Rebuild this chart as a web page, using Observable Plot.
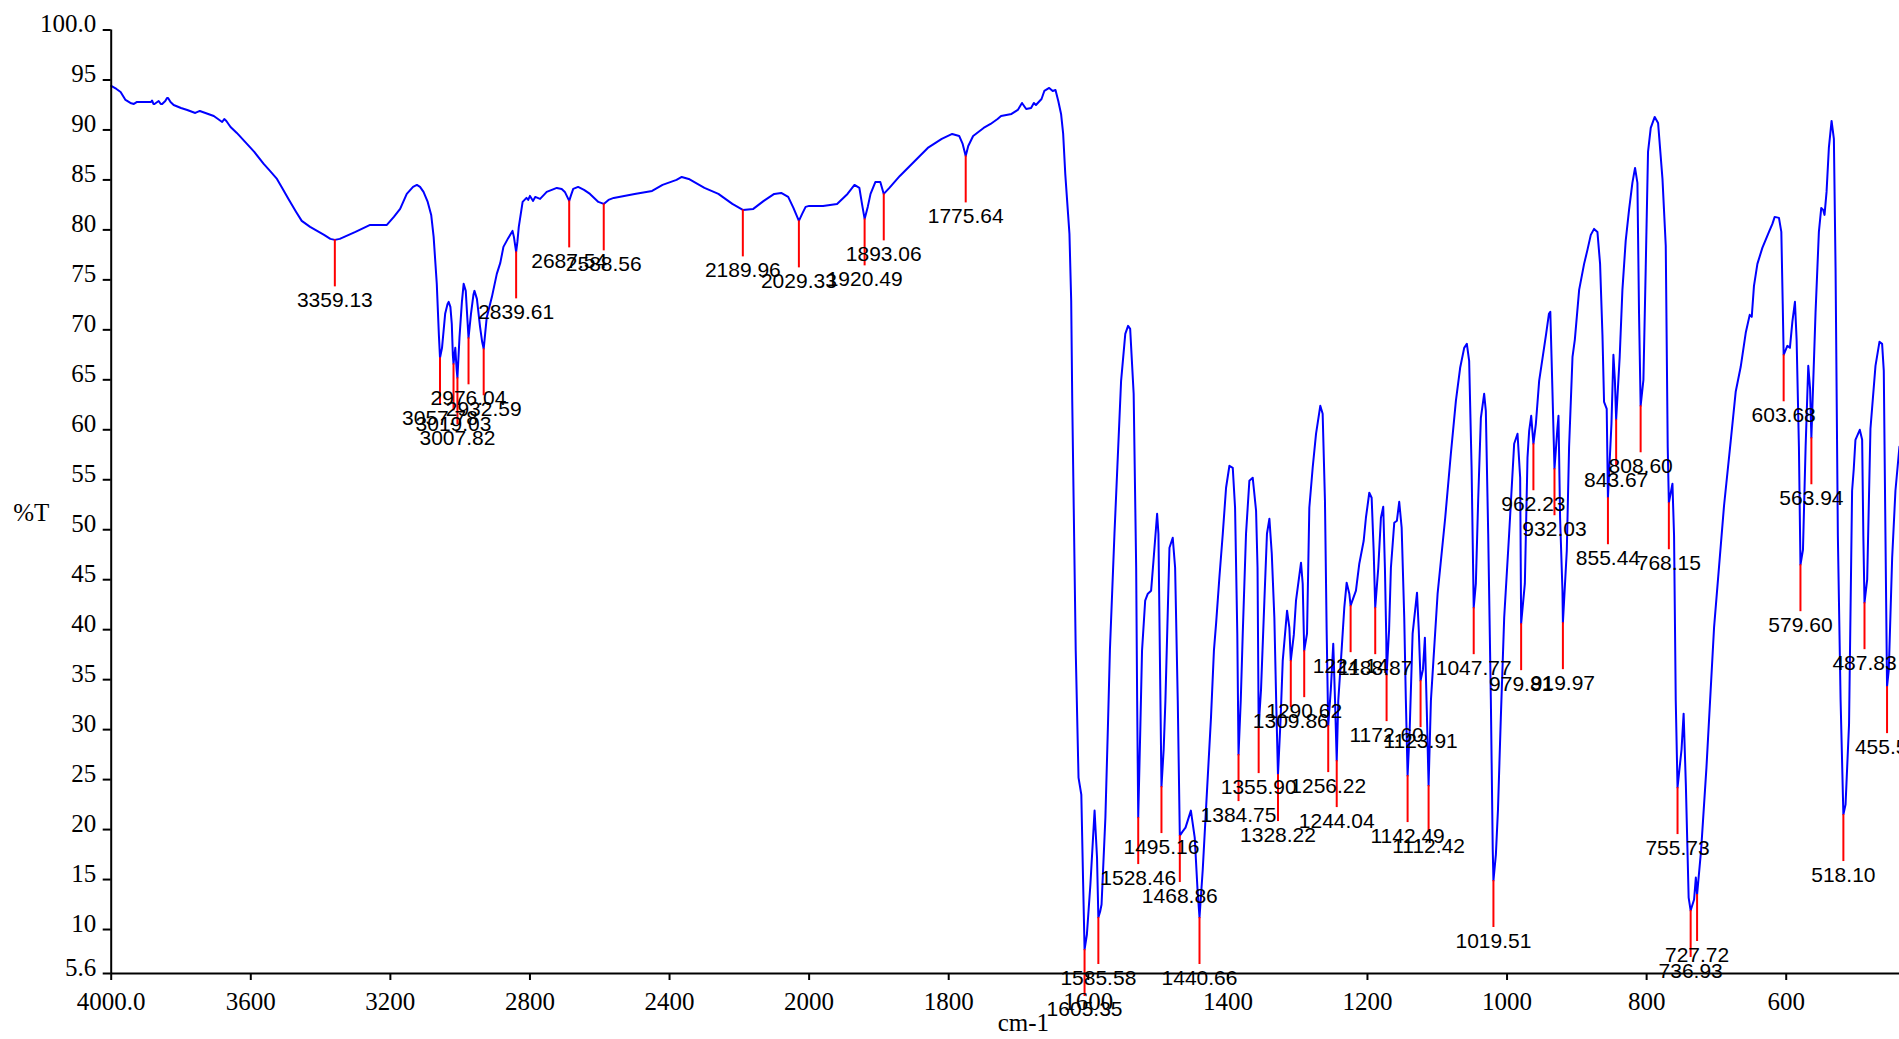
<!DOCTYPE html>
<html>
<head>
<meta charset="utf-8">
<script src="https://cdn.jsdelivr.net/npm/d3@7"></script>
<script src="https://cdn.jsdelivr.net/npm/@observablehq/plot@0.6"></script>
<style>
  html, body { margin: 0; padding: 0; background: #fff; overflow: hidden; }
  #chart svg { display: block; }
</style>
</head>
<body>
<div id="chart"></div>
<script>
// Spectrum (wavenumber cm-1, %T)
const wavenumbers = [
  4000, 3985, 3973, 3959, 3945, 3935, 3926, 3900, 3886, 3883, 3879, 3876, 3868, 3864, 3858, 3854, 3845, 3840, 3837, 3830,
  3821, 3800, 3782, 3759, 3746, 3730, 3706, 3690, 3682, 3676, 3670, 3658, 3640, 3611, 3590, 3563, 3545, 3525, 3510, 3492,
  3470, 3454, 3430, 3410, 3390, 3372, 3359.13, 3345, 3300, 3258, 3210, 3190, 3172, 3153, 3135, 3124, 3115, 3105, 3093, 3083,
  3076, 3067, 3061, 3057.78, 3052, 3043, 3036, 3033, 3028, 3024, 3021, 3019.03, 3014, 3010, 3007.82, 3002, 2995, 2990, 2984, 2980,
  2976.04, 2969, 2962, 2959, 2952, 2943, 2937, 2932.59, 2924, 2909, 2895, 2885, 2876, 2862, 2850, 2846, 2839.61, 2836, 2832, 2821,
  2810, 2805, 2800, 2791, 2785, 2771, 2760, 2752, 2723, 2709, 2700, 2687.54, 2682, 2676, 2662, 2645, 2628, 2604, 2588.56, 2575,
  2560, 2530, 2500, 2450, 2420, 2380, 2365, 2345, 2330, 2300, 2260, 2220, 2189.96, 2160, 2130, 2100, 2080, 2060, 2045, 2029.33,
  2020, 2010, 2000, 1980, 1960, 1945, 1935, 1928, 1924, 1920.49, 1916, 1912, 1905, 1898, 1893.06, 1885, 1870, 1850, 1830, 1810,
  1795, 1785, 1780, 1775.64, 1772, 1765, 1750, 1740, 1730, 1725, 1710, 1701, 1695, 1689, 1682, 1678, 1675, 1667, 1663, 1656,
  1651, 1647, 1643, 1639, 1636, 1633, 1629, 1627, 1624.5, 1623, 1618, 1614, 1610, 1607.5, 1605.35, 1602, 1597, 1591, 1587.5, 1585.58,
  1583, 1581, 1575.5, 1572, 1569, 1562.5, 1553, 1547, 1543, 1540, 1535, 1531.4, 1530, 1528.46, 1525.5, 1523, 1518.5, 1514.7, 1510, 1506.6,
  1501.4, 1499.5, 1497, 1495.16, 1492, 1489.5, 1483.7, 1479, 1475.6, 1471.8, 1468.86, 1465, 1460.7, 1453, 1447.5, 1443.5, 1440.66, 1436, 1432, 1424.2,
  1420, 1416.9, 1412.2, 1407.3, 1402.6, 1397.8, 1393, 1389.7, 1386.5, 1384.75, 1381.5, 1378.7, 1374, 1369.2, 1364.4, 1359.6, 1357.5, 1355.9, 1352.5, 1347.7,
  1344, 1340.5, 1337.1, 1333.4, 1330.5, 1328.22, 1324.5, 1321.4, 1315.2, 1311.9, 1309.86, 1305.5, 1302.4, 1295.2, 1292.8, 1290.62, 1286.6, 1283.3, 1278.5, 1273.7,
  1267.6, 1264.2, 1260.9, 1258.5, 1256.22, 1252.5, 1249, 1246.5, 1244.04, 1241.8, 1237, 1233.2, 1229.8, 1226, 1224.14, 1216.5, 1211.7, 1205.4, 1202.2, 1197.4,
  1194, 1191.1, 1188.87, 1184.5, 1180.7, 1177.4, 1175, 1173, 1172.6, 1169, 1166.4, 1161.6, 1157.8, 1154.5, 1151, 1147.3, 1145, 1142.49, 1139.5, 1135.3,
  1129, 1126.5, 1123.91, 1120.5, 1117.7, 1115, 1112.42, 1109.1, 1099.5, 1088.6, 1080.5, 1073.3, 1067.2, 1061.4, 1057.6, 1054.3, 1050.8, 1047.77, 1044.7, 1041.4,
  1037.5, 1032.8, 1030.4, 1027, 1023.2, 1020.5, 1019.51, 1016, 1013, 1008.9, 1004.1, 997, 989.8, 985, 981.2, 979.81, 974.5, 970.7, 968.3, 965.4,
  962.23, 958.7, 954, 949.1, 944, 940, 938, 935, 932.03, 928, 926.3, 924, 920.6, 919.97, 914.4, 911.1, 906.2, 902.9, 896.7, 889.6,
  884.8, 880, 875.3, 870.5, 866.7, 863.3, 861, 857.2, 855.44, 850.4, 847.6, 845.5, 843.67, 838.6, 834.7, 830, 825.2, 820.4, 816.6, 813.2,
  810.9, 808.6, 804.6, 801.3, 798, 794.1, 788.4, 783.6, 777.3, 772.6, 769.8, 768.15, 763, 760.7, 758.3, 755.73, 750, 747, 743.8, 739.8,
  736.93, 732, 729.5, 727.72, 722, 714.3, 703.4, 689.1, 679.5, 672.4, 665.2, 658, 652.3, 649.4, 646.2, 641.3, 634.2, 624.7, 619.8, 616.5,
  610.4, 607, 605, 603.68, 598.4, 594.7, 591.2, 587.5, 585.1, 581.8, 579.6, 576, 572.2, 568.4, 565.8, 563.94, 558, 553.2, 549.8, 547,
  545.1, 542.2, 538.9, 535, 531.7, 529.3, 526, 522.1, 518.1, 515, 510, 505.6, 503.2, 500.8, 494.6, 491.2, 489.5, 487.83, 484, 479.3,
  472.1, 466.4, 462.6, 460.2, 457.8, 455.53, 453, 448.2, 443.5, 437.8
];
const transmittance = [
  94.4, 94.1, 93.8, 93.0, 92.7, 92.6, 92.8, 92.8, 92.8, 92.95, 92.6, 92.6, 92.8, 92.9, 92.6, 92.6, 92.9, 93.2, 93.2, 92.8,
  92.5, 92.2, 92.0, 91.7, 91.9, 91.7, 91.4, 91.0, 90.8, 91.1, 90.9, 90.3, 89.7, 88.6, 87.8, 86.6, 85.9, 85.1, 84.2, 83.1,
  81.8, 80.9, 80.3, 79.9, 79.5, 79.1, 79.0, 79.1, 79.8, 80.5, 80.5, 81.3, 82.1, 83.6, 84.3, 84.5, 84.3, 83.8, 82.8, 81.5,
  79.3, 74.6, 69.5, 67.2, 68.2, 71.6, 72.6, 72.8, 72.3, 70.6, 67.5, 66.6, 68.2, 66.0, 65.2, 69.2, 72.8, 74.6, 73.9, 71.5,
  69.2, 71.6, 73.5, 73.9, 73.1, 70.3, 68.8, 68.1, 71.2, 73.3, 75.6, 76.7, 78.3, 79.2, 79.9, 79.3, 77.8, 78.8, 80.3, 82.8,
  83.2, 83.0, 83.4, 82.9, 83.3, 83.1, 83.5, 83.8, 84.2, 84.1, 83.8, 82.9, 83.5, 84.1, 84.3, 84.0, 83.6, 82.8, 82.6, 83.0,
  83.2, 83.4, 83.6, 83.9, 84.5, 85.0, 85.3, 85.1, 84.8, 84.2, 83.6, 82.6, 82.0, 82.1, 82.9, 83.6, 83.7, 83.3, 82.2, 80.9,
  81.6, 82.3, 82.4, 82.4, 82.6, 83.6, 84.5, 84.2, 82.5, 81.1, 82.3, 83.6, 84.8, 84.8, 83.6, 84.2, 85.4, 86.8, 88.2, 89.1,
  89.6, 89.4, 88.6, 87.4, 88.4, 89.4, 90.2, 90.6, 91.1, 91.4, 91.6, 92.0, 92.7, 92.1, 92.2, 92.7, 92.5, 93.1, 93.9, 94.2,
  93.9, 94.0, 92.9, 91.6, 89.6, 85.6, 81.6, 79.6, 72.9, 62.9, 37.9, 25.2, 23.5, 15.0, 8.0, 9.5, 14.5, 21.9, 17.2, 11.2,
  11.8, 12.5, 21.2, 30.0, 38.0, 49.6, 64.9, 69.6, 70.4, 70.1, 63.6, 46.2, 33.0, 21.2, 30.0, 37.9, 42.9, 43.6, 43.9, 46.9,
  51.6, 49.6, 35.0, 24.3, 28.0, 32.9, 48.2, 49.2, 46.2, 32.9, 19.4, 19.8, 20.2, 21.9, 19.2, 14.0, 11.2, 16.0, 21.2, 31.2,
  37.9, 40.6, 45.2, 49.6, 54.2, 56.4, 56.2, 52.2, 39.6, 27.5, 33.0, 39.6, 49.6, 54.9, 55.2, 51.9, 46.2, 30.3, 34.0, 42.9,
  49.6, 51.1, 47.6, 41.2, 32.0, 25.5, 31.0, 36.9, 41.9, 40.2, 36.9, 39.5, 42.9, 46.7, 44.6, 37.9, 39.6, 52.2, 56.2, 59.6,
  62.4, 61.6, 52.9, 40.0, 30.4, 34.0, 38.6, 33.0, 26.9, 32.9, 38.0, 42.2, 44.7, 43.6, 42.4, 43.9, 46.6, 48.9, 51.2, 53.7,
  53.2, 47.9, 42.2, 46.2, 51.2, 52.3, 46.2, 39.0, 35.5, 40.0, 46.2, 50.7, 50.9, 52.8, 50.2, 41.2, 33.0, 25.4, 30.0, 39.6,
  43.7, 40.0, 34.9, 36.0, 39.2, 32.0, 24.4, 32.9, 43.6, 51.2, 57.6, 62.9, 66.2, 68.2, 68.6, 66.9, 56.2, 42.2, 44.6, 52.9,
  61.2, 63.6, 61.9, 49.6, 33.0, 18.0, 14.9, 17.5, 22.0, 31.2, 41.2, 49.6, 58.6, 59.6, 55.2, 40.6, 44.6, 57.2, 59.9, 61.4,
  58.6, 60.6, 64.9, 67.2, 69.6, 71.6, 71.8, 64.0, 56.1, 60.0, 61.4, 51.2, 43.9, 40.7, 47.9, 58.3, 67.3, 69.0, 74.0, 76.6,
  78.0, 79.5, 80.1, 79.8, 76.6, 69.5, 62.8, 62.1, 53.2, 60.6, 67.5, 65.0, 61.0, 67.3, 74.0, 78.9, 82.0, 84.7, 86.2, 84.7,
  71.7, 62.4, 65.0, 76.2, 87.8, 90.2, 91.3, 90.7, 85.1, 78.4, 58.3, 52.7, 54.6, 49.4, 33.0, 24.2, 28.0, 31.6, 24.5, 13.2,
  11.9, 13.0, 15.2, 13.5, 17.9, 26.2, 40.2, 52.4, 58.9, 63.8, 66.3, 69.7, 71.5, 71.3, 74.4, 76.6, 78.2, 79.8, 80.6, 81.3,
  81.2, 79.8, 72.6, 67.5, 68.4, 68.2, 70.8, 72.8, 69.0, 58.3, 46.5, 48.0, 58.3, 66.4, 64.1, 59.2, 71.7, 79.8, 82.2, 82.0,
  81.5, 83.8, 88.2, 90.9, 89.1, 76.2, 49.4, 33.0, 21.5, 22.5, 30.5, 53.9, 56.1, 59.0, 60.0, 59.0, 49.4, 42.7, 45.0, 60.1,
  66.4, 68.8, 68.6, 65.9, 49.4, 34.3, 36.0, 47.2, 53.9, 58.3
];

// Peak annotations
const peakLabels = [
  "3359.13", "3057.78", "3019.03", "3007.82", "2976.04", "2932.59", "2839.61", "2687.54", "2588.56", "2189.96",
  "2029.33", "1920.49", "1893.06", "1775.64", "1605.35", "1585.58", "1528.46", "1495.16", "1468.86", "1440.66",
  "1384.75", "1355.90", "1328.22", "1309.86", "1290.62", "1256.22", "1244.04", "1224.14", "1188.87", "1172.60",
  "1142.49", "1123.91", "1112.42", "1047.77", "1019.51", "979.81", "962.23", "932.03", "919.97", "855.44",
  "843.67", "808.60", "768.15", "755.73", "736.93", "727.72", "603.68", "579.60", "563.94", "518.10",
  "487.83", "455.53"
];
const peakTransmittance = [
  79.0, 67.2, 66.6, 65.2, 69.2, 68.1, 77.8, 82.9, 82.6, 82.0,
  80.9, 81.1, 83.6, 87.4, 8.0, 11.2, 21.2, 24.3, 19.4, 11.2,
  27.5, 30.3, 25.5, 36.9, 37.9, 30.4, 26.9, 42.4, 42.2, 35.5,
  25.4, 34.9, 24.4, 42.2, 14.9, 40.6, 58.6, 56.1, 40.7, 53.2,
  61.0, 62.4, 52.7, 24.2, 11.9, 13.5, 67.5, 46.5, 59.2, 21.5,
  42.7, 34.3
];

const xTicks = [4000, 3600, 3200, 2800, 2400, 2000, 1800, 1600, 1400, 1200, 1000, 800, 600];
const xTickLabels = ["4000.0", "3600", "3200", "2800", "2400", "2000", "1800", "1600", "1400", "1200", "1000", "800", "600"];
const yTicks = [100, 95, 90, 85, 80, 75, 70, 65, 60, 55, 50, 45, 40, 35, 30, 25, 20, 15, 10, 5.6];
const yTickLabels = ["100.0", "95", "90", "85", "80", "75", "70", "65", "60", "55", "50", "45", "40", "35", "30", "25", "20", "15", "10", "5.6"];

const spectrum = wavenumbers.map((w, i) => ({wn: w, t: transmittance[i]}));
const peaks = peakLabels.map((s, i) => ({wn: +s, t: peakTransmittance[i], label: s}));
const xTickData = xTicks.map((w, i) => ({wn: w, label: xTickLabels[i]}));
const yTickData = yTicks.map((t, i) => ({t, label: yTickLabels[i]}));

const ruleLen = 4.7; // length of the red marker, in %T units
const yMin = 5.6, xStart = 4000;
// The instrument's axis is compressed by half above 2000 cm-1
const compress = w => (w >= 2000 ? 2000 + (w - 2000) / 2 : w);
const serif = "'Liberation Serif', 'Times New Roman', serif";

const chart = Plot.plot({
  width: 1899,
  height: 1039,
  marginTop: 29.5,
  marginBottom: 66,
  marginLeft: 110.7,
  marginRight: 0,
  style: {background: "white", color: "black", overflow: "hidden"},
  x: {transform: compress, domain: [3000, 400], range: [110.7, 1925.3], axis: null},
  y: {domain: [5.6, 100], range: [973, 29.5], axis: null},
  marks: [
    Plot.line(spectrum, {x: "wn", y: "t", stroke: "#0000ff", strokeWidth: 2}),
    Plot.ruleX(peaks, {x: "wn", y1: "t", y2: d => d.t - ruleLen, stroke: "#ff0000", strokeWidth: 2}),
    Plot.text(peaks, {
      x: "wn", y: d => d.t - ruleLen, text: "label", dy: 20, lineAnchor: "bottom",
      fontSize: 21, fontFamily: "'Liberation Sans', Arial, sans-serif", fill: "black"
    }),
    // axis lines
    Plot.ruleY([yMin], {stroke: "black", strokeWidth: 2}),
    Plot.ruleX([xStart], {stroke: "black", strokeWidth: 2}),
    // x ticks and labels
    Plot.ruleX(xTickData, {x: "wn", y1: yMin, y2: yMin, insetTop: 7, stroke: "black", strokeWidth: 2}),
    Plot.text(xTickData, {
      x: "wn", y: yMin, text: "label", lineAnchor: "top", dy: 19,
      fontSize: 25, fontFamily: serif, fill: "black"
    }),
    // y ticks and labels
    Plot.ruleY(yTickData, {y: "t", x1: xStart, x2: xStart, insetLeft: -8, stroke: "black", strokeWidth: 2}),
    Plot.text(yTickData, {
      x: xStart, y: "t", text: "label", textAnchor: "end", lineAnchor: "bottom", dx: -15, dy: 2,
      fontSize: 25, fontFamily: serif, fill: "black"
    }),
    Plot.text(["%T"], {
      frameAnchor: "left", text: d => d, textAnchor: "start", lineAnchor: "bottom",
      dx: -98, dy: 19, fontSize: 25, fontFamily: serif
    }),
    Plot.text(["cm-1"], {
      frameAnchor: "bottom", text: d => d, lineAnchor: "bottom",
      dx: 18, dy: 57, fontSize: 25, fontFamily: serif
    })
  ]
});
document.getElementById("chart").appendChild(chart);
</script>
</body>
</html>
